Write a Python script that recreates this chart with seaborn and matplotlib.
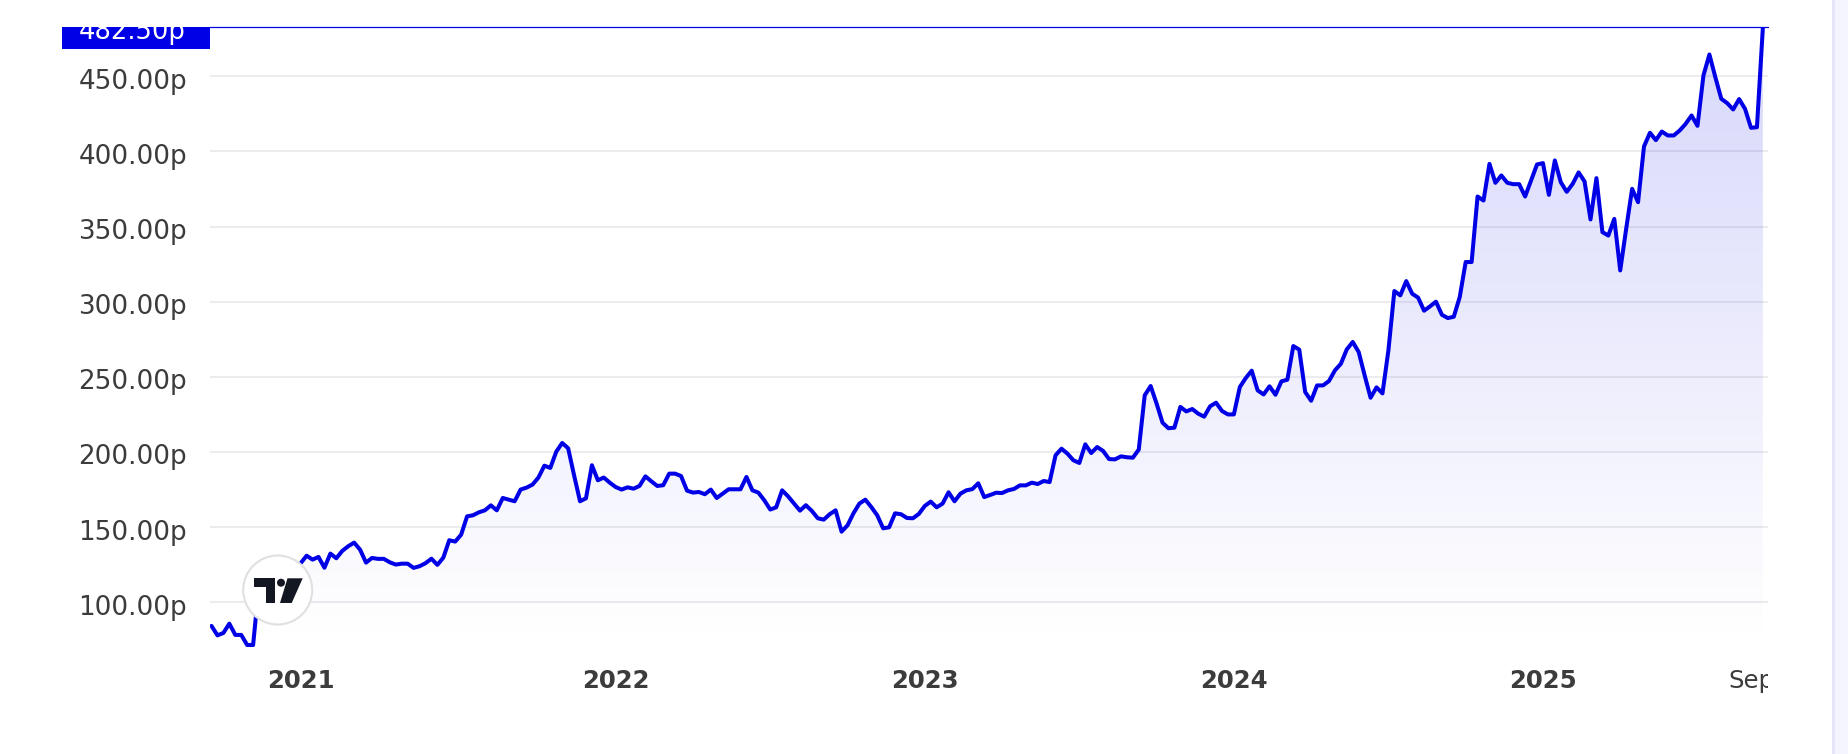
import numpy as np
import pandas as pd
import matplotlib
matplotlib.use("Agg")
import matplotlib.pyplot as plt
import matplotlib.dates as mdates
from matplotlib.patches import Rectangle, Circle, Polygon, PathPatch
from matplotlib.path import Path
from matplotlib.transforms import ScaledTranslation, Bbox
import seaborn as sns

# ---- data (weekly closes, pence) ----
first_week = "2020-09-14"
closes_a = [84.3, 78, 79.6, 85.8, 78.3, 78.3, 71.6, 71.6, 112, 118, 122, 120, 124, 121, 123, 126,
            131, 128.4, 130.2, 123, 132.4, 129.3, 134.2, 137.3, 139.7, 135, 126.4, 129.5, 128.9, 128.9,
            126.6, 125.1, 125.7, 125.7, 122.9, 124, 126, 129, 124.9, 129.7, 141.3, 140.4, 145]
closes_b = [157.2, 157.9, 159.9, 161.2, 164.5, 161.2, 169.4, 168.3, 167.2, 175, 176.3, 178.3, 183,
            190.9, 189.4, 200.2, 206, 202.5, 184.5, 167.2, 169.2, 191.2, 181.2, 183, 179.6, 176.7,
            175, 176.5, 175.6, 177.4, 183.8, 180.5, 177.4, 177.9, 185.6, 185.6, 184, 174.3, 173,
            173.4, 171.9, 175, 169.4]
closes_c = [172.3, 175.2, 175.2, 175.2, 183.4, 174.5, 173, 167.9, 161.7, 163.2, 174.5, 170.5, 165.7,
            161, 164.6, 160.8, 155.9, 155, 158.6, 161.2, 147, 151.2, 159.2, 165.7, 168.3, 163.4,
            157.9, 149.2, 149.9, 159.2, 158.6, 156.1, 155.9, 158.8, 164.1, 167, 163.2, 165.7, 173.2,
            167.2, 172.3, 174.5, 175.3]
closes_d = [179.2, 170, 171.4, 172.9, 172.7, 174.5, 175.4, 177.8, 177.8, 179.6, 178.7, 180.7, 180,
            197.8, 202.2, 198.9, 194.5, 192.7, 205.1, 199.3, 203.3, 200.7, 195.3, 195.1, 197.1, 196.5,
            196.2, 201.6, 237.7, 243.9, 232.2, 219.5, 215.8, 216.2, 230, 227, 228.6, 225.5, 223.5,
            230.4, 232.8, 227.3, 225]
closes_e = [225, 243.2, 249.2, 254.1, 241, 238.3, 243.7, 238.1, 247, 248.1, 270.5, 268.1, 239.9,
            234.1, 244.3, 244.3, 247.2, 254.3, 258.7, 268.3, 273.2, 266.5, 251, 236.1, 243, 239, 267.6,
            307.1, 304.2, 313.7, 305.3, 302.7, 294, 296.9, 300, 291.3, 289.1, 290, 303.1, 326.4, 326.4,
            370, 367.3]
closes_f = [391.7, 379.1, 384, 379.1, 378.2, 378.2, 370, 380.6, 391.3, 392.2, 371.1, 394, 379.5, 373.1,
            378.4, 386, 380, 354.7, 382.2, 346.3, 344, 355.1, 320.8, 348.5, 375.1, 366.2, 403.3, 412.4,
            407.5, 413.2, 410.6, 410.6, 413.9, 418.3, 423.9, 417, 450.5, 464.5, 449.4, 435, 432.1,
            427.9, 434.8, 428.3, 415.7, 416.1, 482.5]
last_price = 482.5
y_ticks = [100, 150, 200, 250, 300, 350, 400, 450]
y_tick_labels = ["100.00p", "150.00p", "200.00p", "250.00p", "300.00p", "350.00p", "400.00p", "450.00p"]
year_ticks = ["2020-12-28", "2022-01-03", "2023-01-02", "2024-01-01", "2024-12-30"]
year_labels = ["2021", "2022", "2023", "2024", "2025"]
month_tick = "2025-09-01"
month_label = "Sep"

closes = closes_a + closes_b + closes_c + closes_d + closes_e + closes_f
df = pd.DataFrame({"week": pd.date_range(first_week, periods=len(closes), freq="7D"), "close": closes})

# ---- layout ----
W, H = 1848, 754
BLUE = "#0000e6"
TEXT = "#3c3c3c"
sns.set_theme(style="white")
plt.rcParams["font.family"] = ["DejaVu Sans"]
fig = plt.figure(figsize=(W / 100, H / 100), dpi=100, facecolor="white")
L, R, T, B = 210, 1768, 27.4, 650
ax = fig.add_axes([L / W, 1 - B / H, (R - L) / W, (B - T) / H])
ax.set_facecolor("none")

t0 = mdates.date2num(df["week"].iloc[0])
days_per_px = 7 / 5.944
x0 = t0 - 1.5 * days_per_px
x1 = x0 + (R - L) * days_per_px
y_per_px = 50 / 75.15
y1 = last_price
y0 = y1 - (B - T) * y_per_px

# gradient area under the line
grad = np.zeros((256, 2, 4))
grad[..., 0], grad[..., 1], grad[..., 2] = 0, 0, 230 / 255
grad[..., 3] = np.linspace(0.16, 0.0, 256)[:, None]
im = ax.imshow(grad, extent=[x0, x1, y0, y1], aspect="auto", origin="upper", zorder=1.5, interpolation="bilinear")
xs = mdates.date2num(df["week"])
verts = [(xs[0], y0)] + list(zip(xs, df["close"])) + [(xs[-1], y0), (xs[0], y0)]
clip = PathPatch(Path(verts), transform=ax.transData, fc="none", ec="none")
ax.add_patch(clip)
im.set_clip_path(clip)

sns.lineplot(data=df, x="week", y="close", ax=ax, color=BLUE, linewidth=2.9, estimator=None,
             errorbar=None, zorder=3, solid_joinstyle="round", solid_capstyle="round")
ax.axhline(last_price, color=BLUE, lw=0.9, zorder=3, clip_on=False)

ax.set_xlim(x0, x1)
ax.set_ylim(y0, y1)
ax.set_xlabel("")
ax.set_ylabel("")
for s in ax.spines.values():
    s.set_visible(False)
ax.set_axisbelow(True)
ax.grid(axis="y", color="#ececee", lw=1.45)
ax.grid(axis="x", visible=False)

ax.set_yticks(y_ticks)
ax.set_yticklabels(y_tick_labels, fontsize=18.9, color=TEXT)
ax.tick_params(axis="y", length=0, pad=16.5)
for lab in ax.get_yticklabels():
    lab.set_transform(lab.get_transform() + ScaledTranslation(0, -1.8 / 72, fig.dpi_scale_trans))

ax.set_xticks(pd.to_datetime(year_ticks + [month_tick]))
ax.set_xticklabels(year_labels + [month_label], fontsize=17.6, color=TEXT)
ax.tick_params(axis="x", length=0, pad=14)
labs = ax.get_xticklabels()
for lab in labs[:-1]:
    lab.set_fontweight("bold")
labs[-1].set_clip_on(True)
labs[-1].set_clip_box(Bbox([[L, 0], [R, H]]))


def fx(px):
    return px / W


def fy(py):
    return 1 - py / H


# last-price tag
fig.add_artist(Rectangle((fx(62), fy(49)), 148 / W, 21.6 / H, transform=fig.transFigure, fc=BLUE, ec="none", zorder=5))
tag = fig.text(fx(186), fy(39), f"{last_price:.2f}p", color="white", fontsize=18.6, ha="right", va="baseline", zorder=6)
tag.set_clip_on(True)
tag.set_clip_box(Bbox([[62, H - 49], [210, H - 27.4]]))

# logo badge
badge = Circle((277.7, H - 590), 34.5, transform=None, fc="white", ec="#e0e0e0", lw=1.5, zorder=7)
fig.add_artist(badge)
DARK = "#131722"
shapes = [
    [(254, 578.3), (275, 578.3), (275, 603), (266, 603), (266, 587.3), (254, 587.3)],
    [(287.5, 578.3), (302.7, 578.3), (291.7, 603), (280, 603)],
]
for poly in shapes:
    fig.add_artist(Polygon([(x, H - y) for x, y in poly], closed=True, transform=None, fc=DARK, ec="none", zorder=8))
fig.add_artist(Circle((281, H - 582.7), 4, transform=None, fc=DARK, ec="none", zorder=8))

# page strip at the right edge
fig.add_artist(Rectangle((fx(1835), 0), 13 / W, 1, transform=fig.transFigure, fc="#f4f5fe", ec="none", zorder=1))
fig.add_artist(Rectangle((fx(1832), 0), 3 / W, 1, transform=fig.transFigure, fc="#e4e6f8", ec="none", zorder=1))

fig.savefig("out.png", dpi=100, facecolor="white")
